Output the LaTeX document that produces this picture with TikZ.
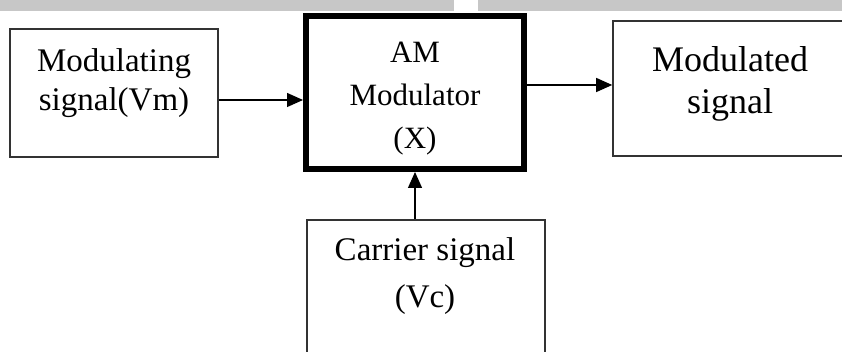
\documentclass[tikz,border=0pt]{standalone}
\usepackage{fontspec}
\setmainfont{Liberation Serif}
\usetikzlibrary{arrows.meta}

\begin{document}
\begin{tikzpicture}[x=1pt,y=1pt,
  box/.style={draw=black!80,line width=1.6pt,inner sep=0pt},
  txt/.style={align=center,inner sep=0pt},
  arr/.style={line width=1.3pt,-{Triangle[length=16pt,width=14pt]}}]
  \useasboundingbox (0,0) rectangle (842,352);
  \clip (0,0) rectangle (842,352);
  % faded band along the top
  \fill[black!22] (0,341) rectangle (454,352);
  \fill[black!22] (478,341) rectangle (842,352);
  % boxes
  \node[box,minimum width=208,minimum height=128] (msg) at (114,259) {};
  \node[box,draw=black,line width=6pt,minimum width=218,minimum height=153] (amod) at (415,259.5) {};
  \node[box,minimum width=240,minimum height=135] (out) at (733,263.5) {};
  \node[box,minimum width=238,minimum height=150] (car) at (426,57) {};
  % labels
  \node[txt,font=\fontsize{33}{39}\selectfont] (msgtxt) at ([yshift=10]msg.center) {Modulating\\signal(Vm)};
  \node[txt,font=\fontsize{31}{43}\selectfont] (amodtxt) at ([yshift=-6]amod.center) {AM\\Modulator\\(X)};
  \node[txt,font=\fontsize{36}{42}\selectfont] (outtxt) at (730,268) {Modulated\\signal};
  \node[txt,font=\fontsize{33}{47}\selectfont] (cartxt) at (425,75.5) {Carrier signal\\(Vc)};
  % connectors
  \draw[arr] ([yshift=-7]msg.east) -- ([yshift=-7]msg.east -| amod.west);
  \draw[arr] ([yshift=7.5]amod.east) -- ([yshift=7.5]amod.east -| out.west);
  \draw[arr] (car.north -| amod.south) -- (amod.south);
\end{tikzpicture}
\end{document}
